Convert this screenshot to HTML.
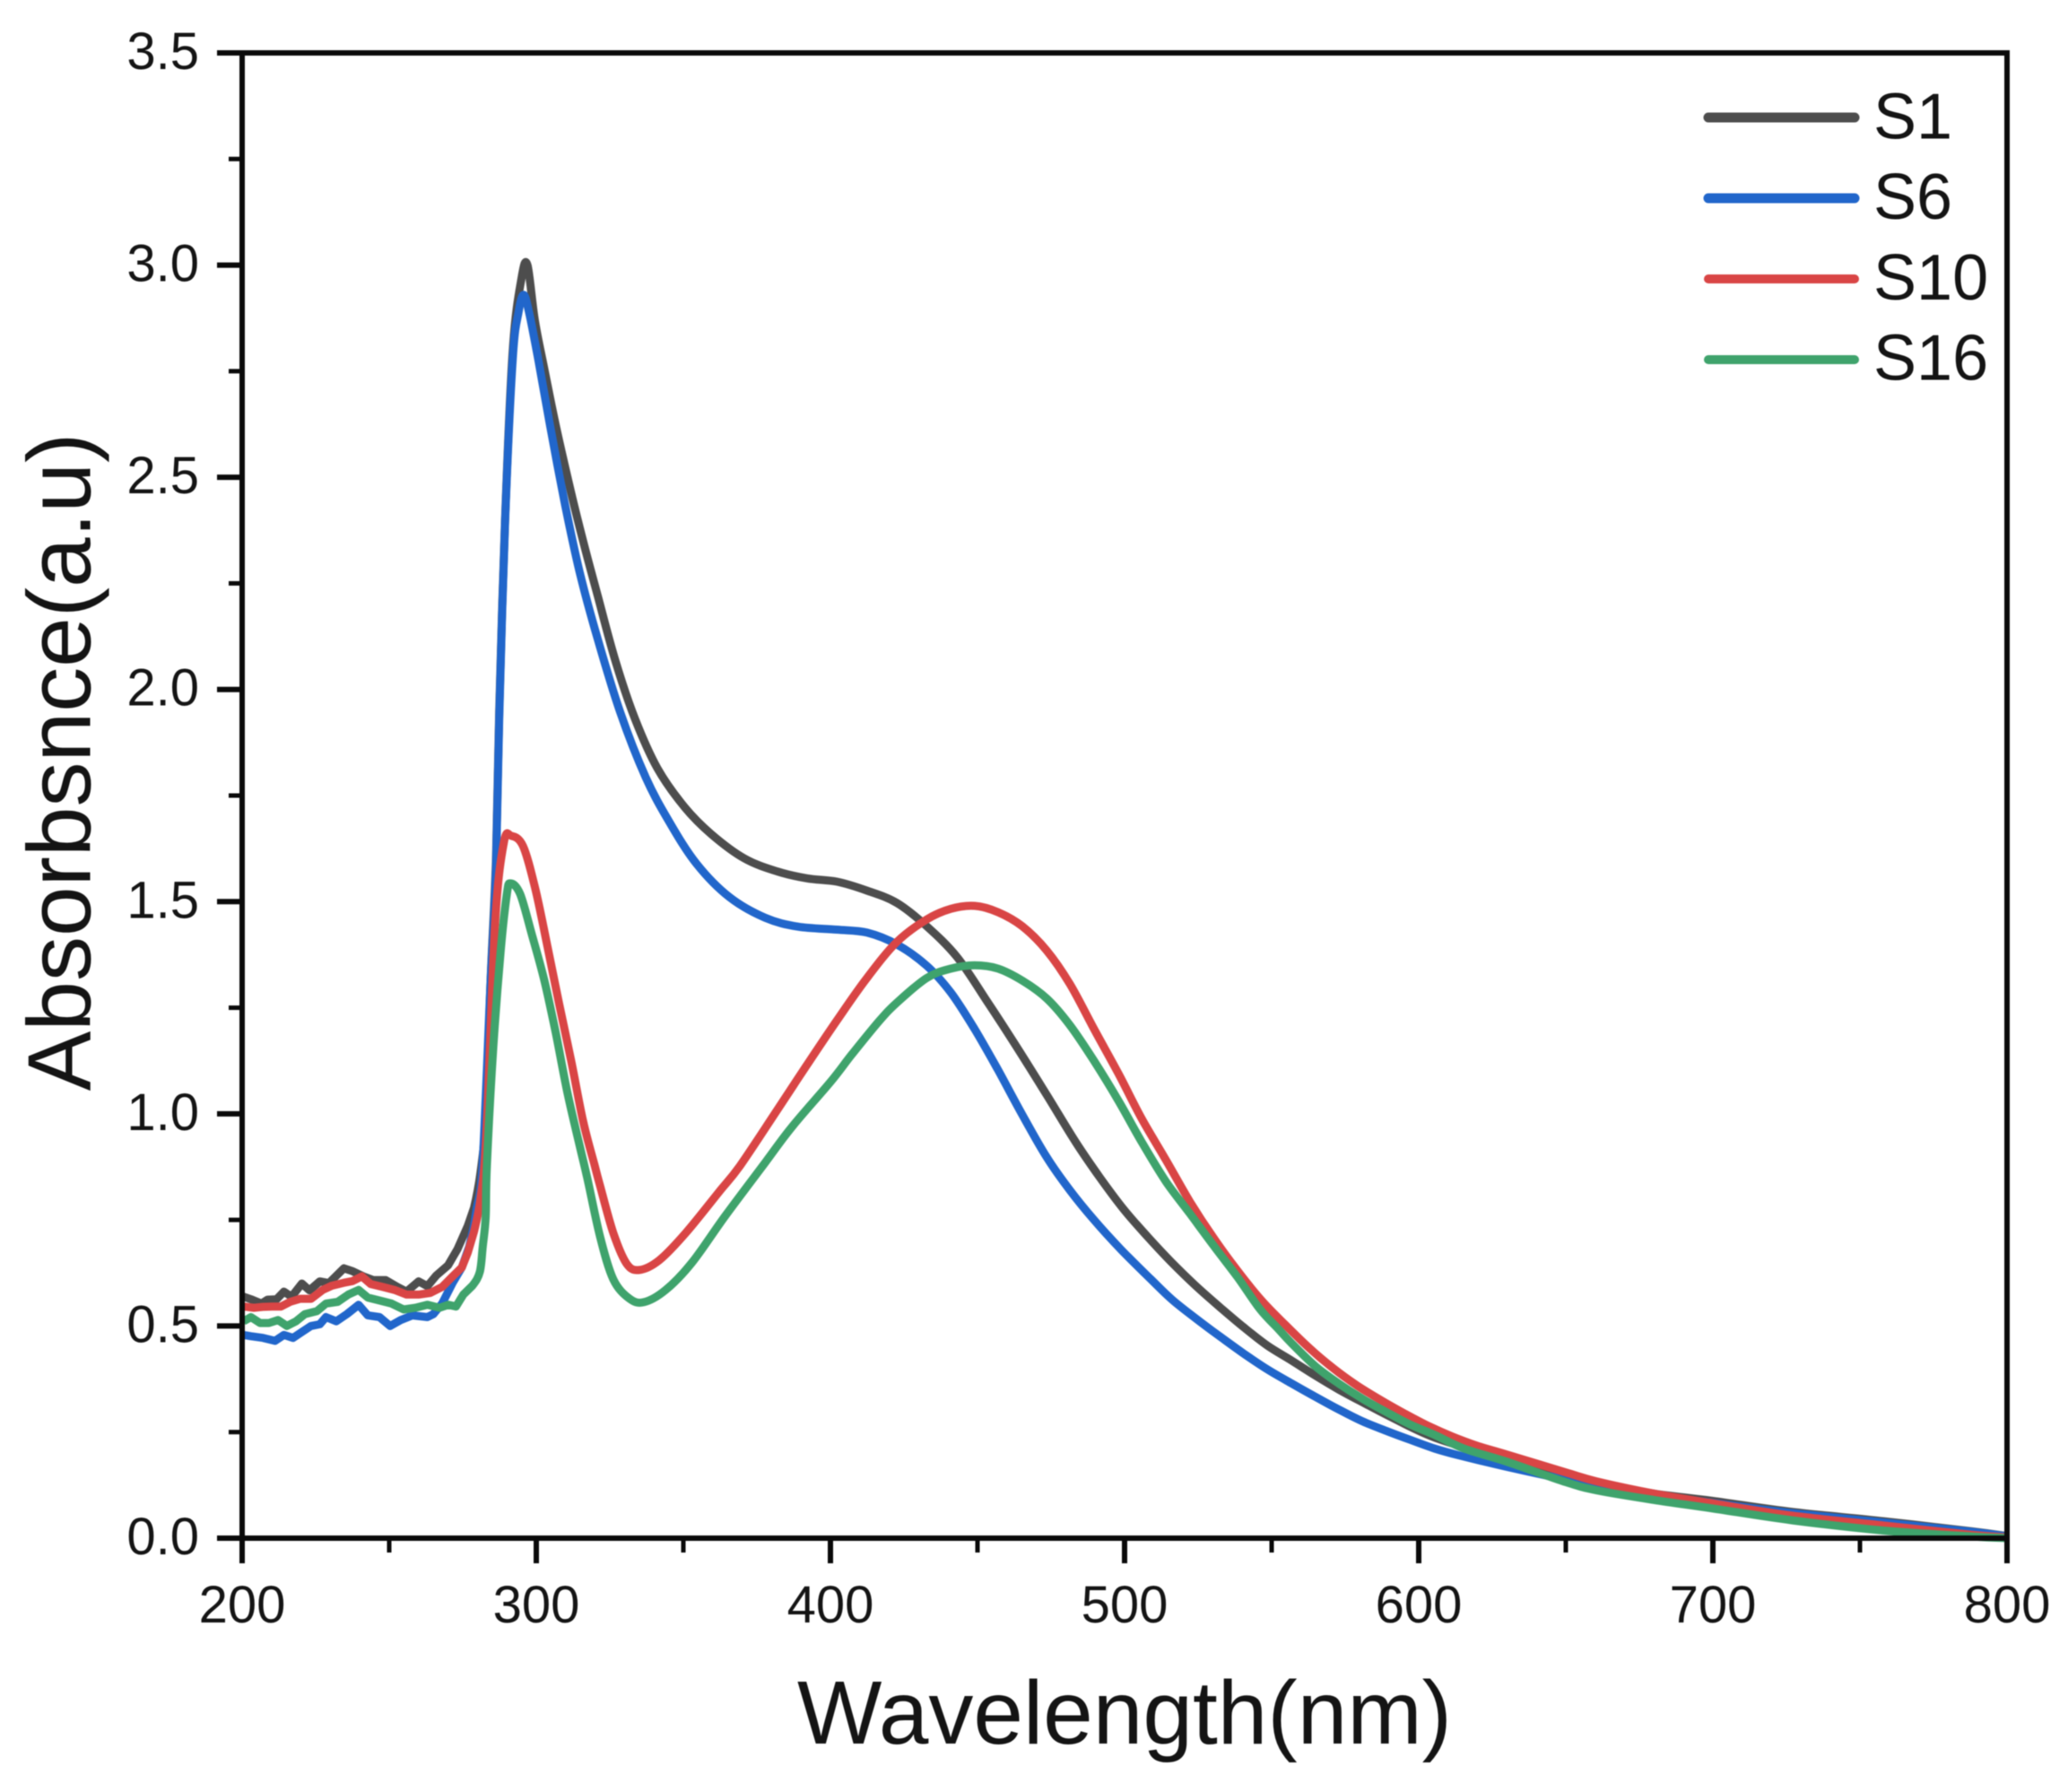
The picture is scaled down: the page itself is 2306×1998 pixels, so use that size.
<!DOCTYPE html>
<html lang="en">
<head>
<meta charset="utf-8">
<title>Absorbance spectra</title>
<style>
html,body{margin:0;padding:0;background:#fff;width:2306px;height:1998px;overflow:hidden}
svg{display:block;filter:blur(0.6px)}
text{font-family:"Liberation Sans",Arial,sans-serif;fill:#141414}
</style>
</head>
<body>
<svg id="chart" xmlns="http://www.w3.org/2000/svg" width="2306" height="1998" viewBox="0 0 2306 1998">
<rect x="0" y="0" width="2306" height="1998" fill="#fff"/>
<g id="series"></g>
<g id="axes"></g>
<text x="1254" y="1944" font-size="100" text-anchor="middle">Wavelength(nm)</text>
<text transform="translate(100.7 849.5) rotate(-90)" font-size="100" text-anchor="middle">Absorbsnce(a.u)</text>
<g id="legend"></g>
</svg>
<script>
const xTickLabels = ["200","300","400","500","600","700","800"];
const xMinorTicks = [250,350,450,550,650,750];
const yTickLabels = ["0.0","0.5","1.0","1.5","2.0","2.5","3.0","3.5"];
const yMinorTicks = [0.25,0.75,1.25,1.75,2.25,2.75,3.25];
const seriesNames = ["S1","S6","S10","S16"];

const s1Wavelength = [200.5,203,206.6,208.6,211.7,214.2,216.8,220.3,222.9,226.4,229.5,234.6,237.6,241.2,244.7,248.8,252.8,255.9,260,263,266,270,273.2,276.7,278.8,281,283,284.4,286.3,287.4,289.4,292,295,297,299.5,302.6,306.7,311.8,315.9,320.9,327,333.6,341.2,350.4,359.5,370.7,382,392,402.2,412.4,422.6,432.7,443,453,463.1,473.5,483.5,491.6,499.7,507.9,516,524,532.3,540.5,548.5,556.7,564.9,572.9,581,589.3,605.5,630,650,661,680,700,727,758,788,800];
const s1Absorbance = [0.569,0.563,0.553,0.562,0.563,0.581,0.569,0.6,0.584,0.605,0.601,0.636,0.629,0.617,0.608,0.608,0.592,0.581,0.605,0.594,0.619,0.643,0.681,0.736,0.778,0.86,1.0,1.3,1.6,1.95,2.4,2.8,2.97,3.0,2.87,2.76,2.62,2.465,2.35,2.22,2.065,1.93,1.814,1.723,1.659,1.602,1.571,1.555,1.547,1.526,1.497,1.442,1.37,1.268,1.16,1.045,0.932,0.85,0.775,0.71,0.65,0.596,0.545,0.497,0.454,0.419,0.383,0.35,0.32,0.29,0.237,0.186,0.153,0.128,0.105,0.088,0.062,0.04,0.016,0.005];

const s6Wavelength = [200.5,203,207.1,211.2,214.2,217.3,220.3,223.4,226.4,228.5,232,235.6,239.6,242.7,246.7,250.3,253.9,257.9,263,265,268,271.6,274.7,277.2,278.8,279.8,281.7,284.4,286.3,287.4,289.4,292,294,295.7,297.5,300.6,304.6,309.8,314.8,320.9,328.6,337.2,345.3,354.5,365.6,377.8,389,402.2,412.4,422.6,432.7,440.9,449,457,465.2,473.5,481.4,489.6,498.8,508.8,516,524,532.3,540.5,548.5,556.7,564.9,572.9,581,589.3,597,605.5,613.7,630,650,661,680,700,727,758,788,800];
const s6Absorbance = [0.479,0.476,0.472,0.465,0.479,0.472,0.486,0.5,0.504,0.521,0.511,0.528,0.55,0.525,0.521,0.5,0.514,0.525,0.521,0.528,0.553,0.602,0.638,0.687,0.736,0.778,0.877,1.3,1.581,1.934,2.393,2.78,2.89,2.93,2.89,2.78,2.625,2.435,2.275,2.118,1.945,1.793,1.687,1.589,1.511,1.462,1.441,1.434,1.427,1.399,1.349,1.286,1.2,1.103,0.998,0.898,0.82,0.75,0.68,0.611,0.563,0.519,0.476,0.435,0.398,0.365,0.333,0.303,0.275,0.252,0.232,0.211,0.195,0.168,0.138,0.124,0.102,0.083,0.059,0.037,0.015,0.004];

const s10Wavelength = [200.5,204,207,210.2,213.2,216.3,219.8,223.4,227.4,230.5,234.6,237.6,240.7,243.7,247.8,251.8,255.9,260,264,268,271.6,274.7,276.7,278.8,281,283,286,289,291.5,295.5,299.6,303.7,307.8,311.9,315.9,319.9,321.7,326.2,330.7,335,341.8,350.9,362,369.2,382,392,402.2,412.4,422.6,432.7,440.9,449,457,465.2,473.5,481.4,489.6,497.9,505.8,514,522.2,530.2,538.4,546.6,554.6,562.8,571,579,587.2,595.4,603.4,611.6,619.8,630,650,661,680,700,727,758,788,800];
const s10Absorbance = [0.546,0.543,0.545,0.546,0.546,0.557,0.564,0.564,0.585,0.595,0.602,0.606,0.617,0.599,0.592,0.585,0.574,0.574,0.578,0.592,0.617,0.638,0.673,0.722,0.8,0.95,1.45,1.64,1.655,1.631,1.532,1.398,1.258,1.124,0.983,0.877,0.83,0.719,0.647,0.632,0.655,0.72,0.815,0.877,1.01,1.115,1.22,1.32,1.405,1.458,1.483,1.49,1.475,1.442,1.385,1.306,1.2,1.095,0.989,0.892,0.793,0.708,0.63,0.56,0.503,0.448,0.4,0.36,0.325,0.293,0.264,0.239,0.218,0.197,0.155,0.133,0.105,0.082,0.053,0.03,0.008,0.002];

const s16Wavelength = [200.5,203,206.1,209.1,212.2,215.2,218.3,221.3,225.4,228.5,232.5,236.1,239.6,242.7,246.7,250.8,254.9,258.9,263,267.1,270.1,272.7,275.2,278.3,280.8,281.8,282.8,283.2,285.4,287.9,290,291.2,294.5,298.6,302.7,306.7,310.7,314.9,317.3,321.7,326.2,331.6,336.5,344,353,364.3,377.8,387,400,407.3,416.5,422.6,432.7,440.9,449,457,465.2,473.5,481.4,489.6,497.9,505.8,514,522.2,530.2,538.4,546,552,556.7,564.9,572.9,581,589.3,597,605.5,615.5,630,650,661,680,700,727,758,788,800];
const s16Absorbance = [0.511,0.521,0.507,0.507,0.514,0.5,0.511,0.528,0.535,0.553,0.557,0.574,0.585,0.567,0.56,0.553,0.539,0.543,0.55,0.543,0.55,0.546,0.574,0.595,0.627,0.687,0.757,0.877,1.158,1.384,1.518,1.543,1.518,1.42,1.315,1.188,1.046,0.92,0.85,0.71,0.61,0.565,0.556,0.585,0.65,0.76,0.885,0.97,1.075,1.14,1.218,1.262,1.32,1.342,1.35,1.342,1.314,1.272,1.209,1.125,1.031,0.934,0.841,0.765,0.69,0.615,0.54,0.495,0.46,0.405,0.364,0.328,0.296,0.268,0.243,0.211,0.18,0.132,0.112,0.09,0.07,0.042,0.018,0.004,0];

const NS = "http://www.w3.org/2000/svg";
const plotLeft = 270, plotRight = 2238, plotTop = 59, plotBottom = 1715;
const xMin = 200, xMax = 800, yMin = 0, yMax = 3.5;
const noiseLimit = 280;
function xScale(v){ return plotLeft + (v - xMin) / (xMax - xMin) * (plotRight - plotLeft); }
function yScale(v){ return plotBottom - (v - yMin) / (yMax - yMin) * (plotBottom - plotTop); }

function make(tag, attrs, parent){
  const el = document.createElementNS(NS, tag);
  for (const k in attrs) el.setAttribute(k, attrs[k]);
  parent.appendChild(el);
  return el;
}

function smoothPath(xs, ys){
  const p = xs.map((x, i) => [xScale(x), yScale(ys[i])]);
  let d = "M" + p[0][0].toFixed(1) + " " + p[0][1].toFixed(1);
  for (let i = 0; i < p.length - 1; i++){
    const a = p[Math.max(i - 1, 0)], b = p[i], c = p[i + 1], e = p[Math.min(i + 2, p.length - 1)];
    if (xs[i + 1] < noiseLimit){
      d += "L" + c[0].toFixed(1) + " " + c[1].toFixed(1);
      continue;
    }
    const c1x = b[0] + (c[0] - a[0]) / 6, c1y = b[1] + (c[1] - a[1]) / 6;
    const c2x = c[0] - (e[0] - b[0]) / 6, c2y = c[1] - (e[1] - b[1]) / 6;
    d += "C" + c1x.toFixed(1) + " " + c1y.toFixed(1) + " " + c2x.toFixed(1) + " " + c2y.toFixed(1) + " " + c[0].toFixed(1) + " " + c[1].toFixed(1);
  }
  return d;
}

const seriesColors = ["#4d4d4d","#2166cb","#d94545","#3fa36c"];
const seriesX = [s1Wavelength, s6Wavelength, s10Wavelength, s16Wavelength];
const seriesY = [s1Absorbance, s6Absorbance, s10Absorbance, s16Absorbance];
const seriesGroup = document.getElementById("series");
seriesNames.forEach((name, i) => {
  const path = make("path", {d: smoothPath(seriesX[i], seriesY[i]), fill: "none", stroke: seriesColors[i], "stroke-width": 9, "stroke-linejoin": "round", "stroke-linecap": "butt"}, seriesGroup);
  
  
});

const axesGroup = document.getElementById("axes");
const frame = make("rect", {x: plotLeft, y: plotTop, width: plotRight - plotLeft, height: plotBottom - plotTop, fill: "none", stroke: "#0a0a0a", "stroke-width": 6}, axesGroup);



xTickLabels.forEach(label => {
  const x = xScale(Number(label));
  const tick = make("line", {x1: x, x2: x, y1: plotBottom, y2: plotBottom + 28, stroke: "#0a0a0a", "stroke-width": 6}, axesGroup);
  
  
  const text = make("text", {x: x, y: 1809, "font-size": 58, "text-anchor": "middle"}, axesGroup);
  text.textContent = label;
  
  
});
xMinorTicks.forEach(v => {
  const x = xScale(v);
  const tick = make("line", {x1: x, x2: x, y1: plotBottom, y2: plotBottom + 16, stroke: "#0a0a0a", "stroke-width": 5}, axesGroup);
  
  
});
yTickLabels.forEach(label => {
  const y = yScale(Number(label));
  const tick = make("line", {x1: plotLeft - 28, x2: plotLeft, y1: y, y2: y, stroke: "#0a0a0a", "stroke-width": 6}, axesGroup);
  
  
  const text = make("text", {x: 222, y: y + 18, "font-size": 58, "text-anchor": "end"}, axesGroup);
  text.textContent = label;
  
  
});
yMinorTicks.forEach(v => {
  const y = yScale(v);
  const tick = make("line", {x1: plotLeft - 15, x2: plotLeft, y1: y, y2: y, stroke: "#0a0a0a", "stroke-width": 5}, axesGroup);
  
  
});

const legendGroup = document.getElementById("legend");
seriesNames.forEach((name, i) => {
  const rowY = 131 + i * 90;
  const swatch = make("line", {x1: 1905, x2: 2068, y1: rowY, y2: rowY, stroke: seriesColors[i], "stroke-width": i < 2 ? 11 : 10, "stroke-linecap": "round"}, legendGroup);
  
  
  const label = make("text", {x: 2089, y: rowY + 23.5 - i * 0.3, "font-size": 72}, legendGroup);
  label.textContent = name;
  
  
});
</script>
</body>
</html>
